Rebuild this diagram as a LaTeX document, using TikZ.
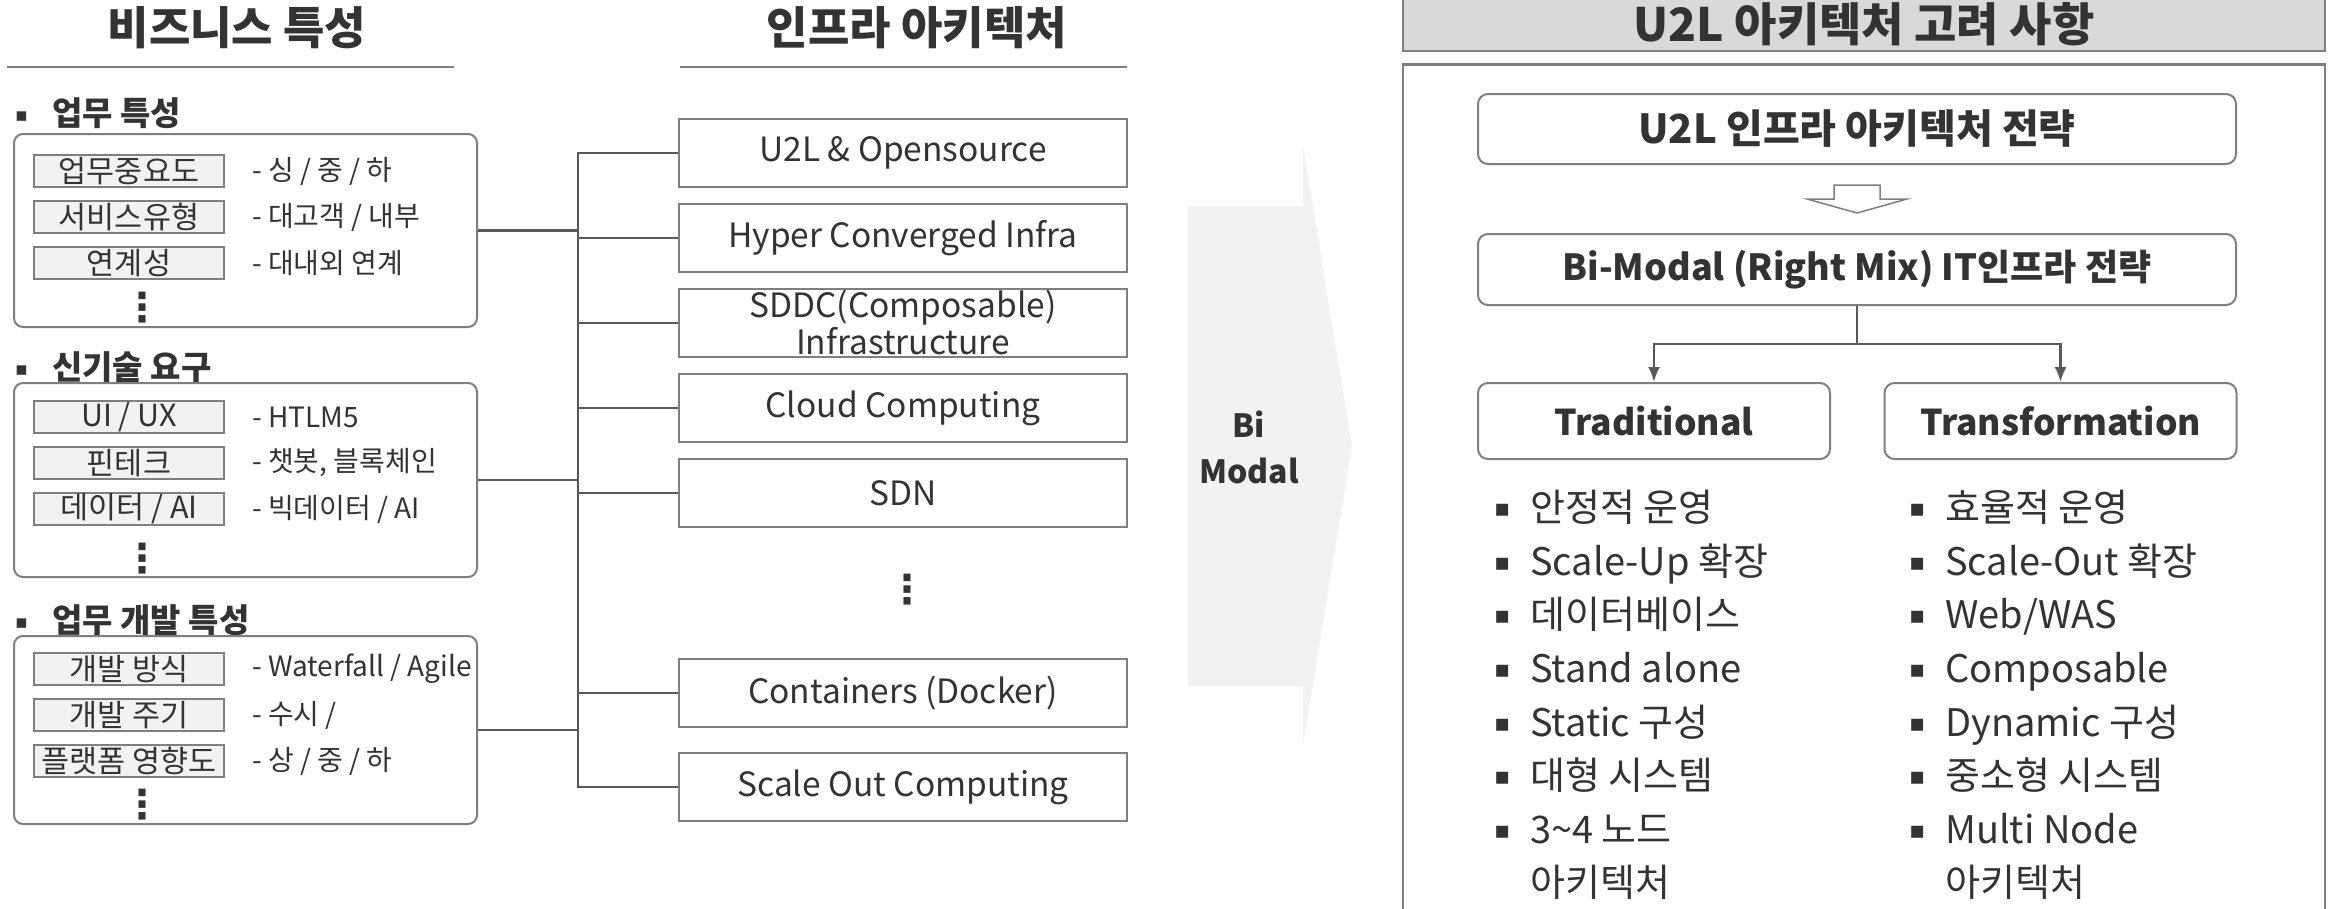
\documentclass[tikz,border=0pt]{standalone}
\usepackage{fontspec}
\setmainfont{Noto Sans CJK KR}
\newfontfamily\symfont{DejaVu Sans}
\usepackage{tikz}
\usetikzlibrary{positioning,calc,arrows.meta}
\definecolor{textgray}{HTML}{333333}
\definecolor{linegray}{HTML}{595959}
\definecolor{boxgray}{HTML}{7F7F7F}
\definecolor{lightfill}{HTML}{F2F2F2}
\definecolor{headfill}{HTML}{D9D9D9}
% bullet: box width, bullet size, raise
\newcommand{\bltbox}[3]{\makebox[#1][l]{\raisebox{#3}{\symfont\fontsize{#2}{#2}\selectfont ▪}}}

\begin{document}
\begin{tikzpicture}[x=1pt,y=-1pt,text=textgray,
  title/.style={inner sep=0,font=\fontsize{45}{50}\selectfont\bfseries},
  rule/.style={draw=boxgray,line width=2pt},
  section/.style={anchor=west,inner sep=0,font=\fontsize{33}{38}\selectfont\bfseries},
  groupbox/.style={draw=boxgray,line width=2pt,rounded corners=9pt,minimum width=463pt},
  tagbox/.style={draw=boxgray,line width=2pt,fill=lightfill,minimum width=190pt,
    minimum height=32pt,inner sep=0,font=\fontsize{30.5}{34}\selectfont},
  desc/.style={anchor=west,inner sep=0,font=\fontsize{28}{34}\selectfont},
  vdots/.style={inner sep=0,font=\fontsize{40}{44}\selectfont\symfont\bfseries},
  infrabox/.style={draw=boxgray,line width=2pt,minimum width=448pt,minimum height=68pt,
    inner sep=0,align=center,font=\fontsize{33.5}{37}\selectfont},
  conn/.style={draw=linegray,line width=2.5pt},
  bimodal/.style={inner sep=0,align=center,font=\fontsize{32}{46}\selectfont\bfseries},
  headbox/.style={draw=boxgray,fill=headfill,line width=2.5pt,minimum width=922pt,
    minimum height=54pt,font=\fontsize{46}{50}\selectfont\bfseries},
  panelbox/.style={draw=boxgray,line width=2.5pt,minimum width=922pt,minimum height=860pt},
  stratbox/.style={draw=boxgray,line width=2pt,rounded corners=10pt,minimum width=758pt,
    font=\bfseries},
  colbox/.style={draw=boxgray,line width=2pt,rounded corners=10pt,minimum width=352pt,
    minimum height=76pt,font=\fontsize{35.5}{40}\selectfont\bfseries},
  itemlist/.style={anchor=north west,inner sep=0,align=left,font=\fontsize{38}{53.6}\selectfont}]

  \useasboundingbox (0,0) rectangle (2338,908);

  % Titles
  \node[title] (biztitle) at (237,28) {비즈니스 특성};
  \draw[rule] (7,67) -- (454,67);
  \node[title] (infratitle) at (917,28) {인프라 아키텍처};
  \draw[rule] (680,67) -- (1127,67);

  % 업무 특성
  \node[section] (sec1) at (15,113) {\bltbox{37pt}{19}{4pt}업무 특성};
  \node[groupbox,minimum height=193pt] (biz1) at (245.5,230.5) {};
  \node[tagbox] (tag1) at (129,171) {업무중요도};
  \node[tagbox,below=12pt of tag1] (tag2) {서비스유형};
  \node[tagbox,below=12pt of tag2] (tag3) {연계성};
  \node[desc,right=27pt of tag1] (desc1) {- 싱 / 중 / 하};
  \node[desc,right=27pt of tag2] (desc2) {- 대고객 / 내부};
  \node[desc,right=27pt of tag3] (desc3) {- 대내외 연계};
  \node[vdots] (dots1) at (142,308) {⋮};

  % 신기술 요구
  \node[section] (sec2) at (15,367) {\bltbox{37pt}{19}{4pt}신기술 요구};
  \node[groupbox,minimum height=194pt] (biz2) at (245.5,480) {};
  \node[tagbox] (tag4) at (129,417) {UI / UX};
  \node[tagbox,below=12pt of tag4] (tag5) {핀테크};
  \node[tagbox,below=12pt of tag5] (tag6) {데이터 / AI};
  \node[desc,right=27pt of tag4] (desc4) {- HTLM5};
  \node[desc,right=27pt of tag5] (desc5) {- 챗봇, 블록체인};
  \node[desc,right=27pt of tag6] (desc6) {- 빅데이터 / AI};
  \node[vdots] (dots2) at (142,559) {⋮};

  % 업무 개발 특성
  \node[section] (sec3) at (15,620) {\bltbox{37pt}{19}{4pt}업무 개발 특성};
  \node[groupbox,minimum height=188pt] (biz3) at (245.5,730) {};
  \node[tagbox] (tag7) at (129,669) {개발 방식};
  \node[tagbox,below=12pt of tag7] (tag8) {개발 주기};
  \node[tagbox,below=12pt of tag8] (tag9) {플랫폼 영향도};
  \node[desc,right=27pt of tag7] (desc7) {- Waterfall / Agile};
  \node[desc,right=27pt of tag8] (desc8) {- 수시 /};
  \node[desc,right=27pt of tag9] (desc9) {- 상 / 중 / 하};
  \node[vdots] (dots3) at (142,805) {⋮};

  % Infrastructure blocks
  \node[infrabox] (infra1) at (903,153) {U2L \& Opensource};
  \node[infrabox,below=15pt of infra1] (infra2) {Hyper Converged Infra};
  \node[infrabox,below=15pt of infra2] (infra3) {SDDC(Composable)\\Infrastructure};
  \node[infrabox,below=15pt of infra3] (infra4) {Cloud Computing};
  \node[infrabox,below=15pt of infra4] (infra5) {SDN};
  \node[vdots] (dots4) at (907,590) {⋮};
  \node[infrabox] (infra6) at (903,693) {Containers (Docker)};
  \node[infrabox,below=24pt of infra6] (infra7) {Scale Out Computing};

  % Tree lines
  \node[coordinate] (trunk) at (578,0) {};
  \draw[conn] (biz1.east) -- (biz1.east -| trunk)
    (biz2.east) -- (biz2.east -| trunk)
    (biz3.east) -- (biz3.east -| trunk);
  \draw[conn] (infra1.west) -| (trunk |- infra7.west) -- (infra7.west);
  \draw[conn] (infra2.west) -- (infra2.west -| trunk)
    (infra3.west) -- (infra3.west -| trunk)
    (infra4.west) -- (infra4.west -| trunk)
    (infra5.west) -- (infra5.west -| trunk)
    (infra6.west) -- (infra6.west -| trunk);

  % Bi Modal arrow
  \fill[lightfill] (1188,206) -- (1303,206) -- (1303,145) -- (1352,446)
    -- (1303,745) -- (1303,686) -- (1188,686) -- cycle;
  \node[bimodal] (bimodal) at (1249,447) {Bi\\Modal};

  % U2L panel
  \node[headbox,anchor=south] (header) at (1864,52) {U2L 아키텍처 고려 사항};
  \node[panelbox,anchor=north] (panel) at (1864,63) {};
  \node[stratbox,minimum height=70pt,font=\fontsize{40}{44}\selectfont\bfseries] (strat1)
    at (1857,129) {U2L 인프라 아키텍처 전략};
  \node[stratbox,minimum height=71pt,font=\fontsize{36}{40}\selectfont\bfseries] (strat2)
    at (1857,269.5) {Bi-Modal (Right Mix) IT인프라 전략};
  \node[coordinate] (hollow) at ($(strat1.south)!0.5!(strat2.north)$) {};
  \draw[draw=boxgray,line width=1.5pt,shift={(hollow)}] (-23,-14) -- (23,-14) -- (23,0)
    -- (50,0) -- (0,14) -- (-50,0) -- (-23,0) -- cycle;

  \node[colbox] (trad) at (1654,421) {Traditional};
  \node[colbox] (trans) at (2060.5,421) {Transformation};
  \node[coordinate,below=38pt of strat2] (split) {};
  \draw[conn] (strat2) -- (split);
  \draw[conn,-{Latex[length=15pt,width=12pt]}] (split) -| (trad);
  \draw[conn,-{Latex[length=15pt,width=12pt]}] (split) -| (trans);

  % Lists
  \node[itemlist] (tradlist) at (1494,490) {\bltbox{36pt}{24}{5pt}안정적 운영\\
    \bltbox{36pt}{24}{5pt}Scale-Up 확장\\
    \bltbox{36pt}{24}{5pt}데이터베이스\\
    \bltbox{36pt}{24}{5pt}Stand alone\\
    \bltbox{36pt}{24}{5pt}Static 구성\\
    \bltbox{36pt}{24}{5pt}대형 시스템\\
    \bltbox{36pt}{24}{5pt}3\textasciitilde4 노드\\
    \makebox[36pt]{}아키텍처};
  \node[itemlist] (translist) at (1909,490) {\bltbox{36pt}{24}{5pt}효율적 운영\\
    \bltbox{36pt}{24}{5pt}Scale-Out 확장\\
    \bltbox{36pt}{24}{5pt}Web/WAS\\
    \bltbox{36pt}{24}{5pt}Composable\\
    \bltbox{36pt}{24}{5pt}Dynamic 구성\\
    \bltbox{36pt}{24}{5pt}중소형 시스템\\
    \bltbox{36pt}{24}{5pt}Multi Node\\
    \makebox[36pt]{}아키텍처};
\end{tikzpicture}
\end{document}
